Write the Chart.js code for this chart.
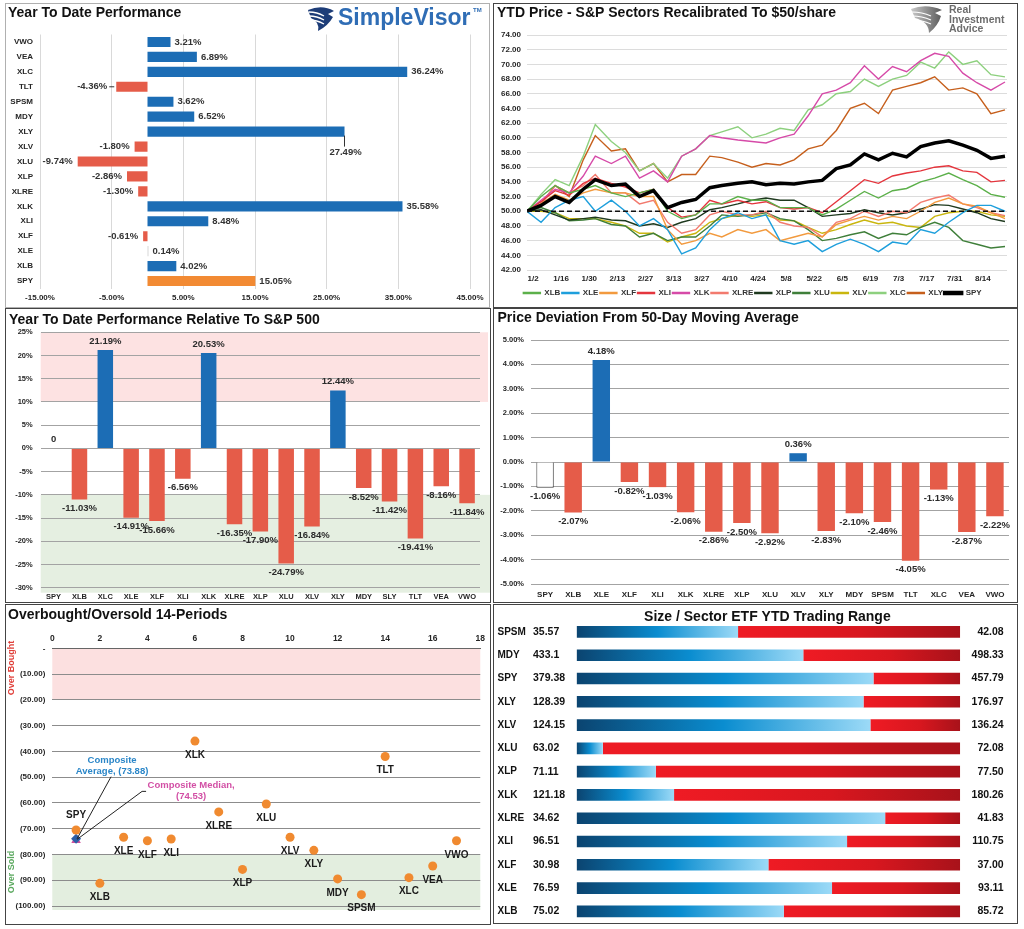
<!DOCTYPE html>
<html>
<head>
<meta charset="utf-8">
<script src="https://cdn.jsdelivr.net/npm/chart.js@4.4.0/dist/chart.umd.min.js"></script>
<style>
body{margin:0;background:#fff;width:1024px;height:929px;position:relative;overflow:hidden}
.panel{position:absolute;box-sizing:border-box;border:1px solid #444;background:#fff}
.panel canvas{position:absolute;left:0;top:0}
</style>
</head>
<body>
<div class="panel" style="left:5px;top:3px;width:485px;height:305px;border-color:#b0b0b0"><canvas id="c1" width="483" height="303"></canvas></div>
<div class="panel" style="left:493px;top:3px;width:525px;height:305px"><canvas id="c2" width="523" height="303"></canvas></div>
<div class="panel" style="left:5px;top:308px;width:486px;height:295px"><canvas id="c3" width="484" height="293"></canvas></div>
<div class="panel" style="left:493px;top:308px;width:525px;height:295px"><canvas id="c4" width="523" height="293"></canvas></div>
<div class="panel" style="left:5px;top:604px;width:486px;height:321px"><canvas id="c5" width="484" height="319"></canvas></div>
<div class="panel" style="left:493px;top:604px;width:525px;height:320px"><canvas id="c6" width="523" height="318"></canvas></div>
<script>
/////////////////////////////////////////////////////////////
// data
/////////////////////////////////////////////////////////////
// year to date performance
const ytdLabels = ['VWO','VEA','XLC','TLT','SPSM','MDY','XLY','XLV','XLU','XLP','XLRE','XLK','XLI','XLF','XLE','XLB','SPY']
const ytdValues = [3.21, 6.89, 36.24, -4.36, 3.62, 6.52, 27.49, -1.80, -9.74, -2.86, -1.30, 35.58, 8.48, -0.61, 0.14, 4.02, 15.05]
const ytdAxis = [-15, 45, 10]   // min, max, step (%)

// sectors recalibrated to $50
const priceDates = ['12/30','1/6','1/13','1/20','1/27','2/2','2/10','2/17','2/24','3/3','3/10','3/17','3/24','3/31','4/6','4/14','4/21','4/28','5/5','5/12','5/19','5/26','6/2','6/9','6/16','6/23','6/30','7/7','7/14','7/21','7/28','8/4','8/11','8/18','8/25']
const xlb  = [50, 52.0, 53.5, 52.5, 53.0, 53.5, 52.5, 52.0, 52.5, 53.0, 50.0, 49.0, 49.5, 51.0, 51.0, 52.0, 51.5, 51.5, 50.5, 50.5, 50.5, 49.5, 50.3, 51.5, 52.7, 51.8, 52.8, 53.1, 54.0, 54.5, 55.2, 54.3, 53.5, 52.3, 51.9]
const xle  = [50, 48.5, 50.5, 51.5, 52.0, 50.0, 51.5, 50.0, 48.0, 49.0, 47.5, 44.2, 45.0, 47.5, 49.0, 49.8, 49.0, 49.5, 46.0, 45.5, 46.0, 44.5, 45.5, 46.2, 45.5, 44.5, 45.8, 45.5, 47.5, 47.0, 48.5, 49.8, 50.8, 50.8, 50.0]
const xlf  = [50, 51.0, 52.3, 51.5, 52.5, 53.0, 52.5, 52.5, 52.0, 52.0, 47.5, 45.5, 46.0, 47.0, 46.5, 47.5, 47.0, 47.5, 46.0, 46.5, 47.0, 46.5, 48.2, 48.8, 49.3, 48.8, 49.3, 49.0, 50.0, 51.2, 51.8, 51.0, 50.7, 49.8, 49.0]
const xli  = [50, 51.3, 52.8, 52.2, 53.8, 54.5, 53.8, 53.3, 52.5, 53.0, 50.5, 49.2, 49.5, 51.5, 51.0, 51.5, 51.0, 51.3, 50.5, 50.3, 50.5, 49.8, 51.3, 52.8, 54.3, 53.8, 54.8, 55.2, 55.5, 56.0, 56.2, 55.5, 55.3, 54.0, 54.2]
const xlk  = [50, 51.5, 53.0, 52.5, 54.8, 57.5, 56.5, 57.5, 54.5, 55.5, 54.0, 57.5, 58.5, 60.3, 60.0, 59.7, 59.5, 59.3, 60.0, 60.5, 63.0, 66.0, 66.5, 67.5, 69.8, 68.0, 69.7, 69.0, 70.5, 71.5, 71.1, 68.8, 67.5, 66.5, 67.6]
const xlre = [50, 51.0, 53.5, 52.5, 53.5, 55.0, 52.5, 52.5, 51.0, 51.5, 48.5, 47.0, 47.5, 49.5, 50.0, 49.5, 49.5, 50.0, 48.5, 48.0, 47.8, 46.5, 48.5, 49.0, 50.0, 49.3, 50.0, 49.8, 51.2, 51.8, 52.2, 51.0, 50.5, 49.8, 49.4]
const xlp  = [50, 50.2, 49.5, 48.8, 49.0, 49.2, 48.8, 48.7, 48.0, 48.3, 47.8, 48.5, 49.0, 50.2, 50.5, 51.0, 51.5, 51.8, 51.5, 51.5, 50.5, 49.3, 49.5, 49.7, 50.2, 49.8, 49.5, 49.8, 50.3, 50.9, 50.8, 50.3, 49.8, 49.0, 48.6]
const xlu  = [50, 50.5, 49.8, 48.7, 48.8, 49.0, 48.2, 48.0, 46.5, 47.0, 46.0, 46.5, 46.5, 48.0, 49.5, 49.3, 49.5, 49.8, 49.0, 48.7, 47.5, 46.0, 46.3, 46.8, 47.2, 46.3, 47.0, 46.8, 47.8, 48.5, 47.8, 46.0, 45.5, 45.0, 45.2]
const xlv  = [50, 50.0, 49.8, 49.0, 49.0, 49.0, 48.5, 48.0, 47.0, 47.0, 45.8, 46.5, 47.0, 48.5, 49.0, 49.5, 49.3, 49.5, 48.8, 48.7, 47.8, 47.0, 47.5, 48.2, 48.8, 48.3, 48.5, 48.0, 47.8, 49.3, 49.8, 50.0, 50.0, 49.5, 49.3]
const xlc  = [50, 52.3, 54.3, 53.5, 57.5, 61.8, 59.5, 58.0, 55.5, 56.5, 54.5, 57.5, 58.5, 60.3, 60.8, 61.5, 60.0, 60.5, 61.3, 61.0, 63.8, 64.5, 66.0, 66.3, 68.0, 67.0, 68.0, 68.5, 70.3, 69.5, 71.7, 70.0, 70.5, 68.6, 68.3]
const xly  = [50, 51.0, 53.5, 52.0, 57.0, 60.3, 58.2, 58.5, 55.5, 56.5, 54.0, 55.0, 55.0, 57.5, 57.3, 56.7, 56.0, 56.5, 56.3, 57.0, 58.5, 59.0, 61.0, 64.0, 64.7, 63.3, 66.5, 67.0, 67.5, 68.3, 66.5, 66.8, 66.0, 63.3, 63.8]
const spy  = [50, 50.8, 52.0, 51.2, 53.0, 54.3, 53.5, 53.7, 52.0, 52.8, 50.5, 51.2, 51.6, 53.2, 53.5, 53.8, 54.0, 53.6, 53.8, 53.7, 54.0, 54.2, 55.8, 56.3, 57.8, 57.0, 57.9, 57.4, 58.8, 59.3, 59.6, 59.0, 58.3, 57.2, 57.5]
const sectorNames = ['XLB','XLE','XLF','XLI','XLK','XLRE','XLP','XLU','XLV','XLC','XLY','SPY']
const sectorSeries = [xlb, xle, xlf, xli, xlk, xlre, xlp, xlu, xlv, xlc, xly, spy]
const priceAxis = [42, 74, 2]
const baseValue = 50

// relative to S&P 500
const relLabels = ['SPY','XLB','XLC','XLE','XLF','XLI','XLK','XLRE','XLP','XLU','XLV','XLY','MDY','SLY','TLT','VEA','VWO']
const relValues = [0, -11.03, 21.19, -14.91, -15.66, -6.56, 20.53, -16.35, -17.90, -24.79, -16.84, 12.44, -8.52, -11.42, -19.41, -8.16, -11.84]
const relAxis = [-30, 25, 5]
const relBands = [10, -10]   // over / under zones

// deviation from 50-day moving average
const devLabels = ['SPY','XLB','XLE','XLF','XLI','XLK','XLRE','XLP','XLU','XLV','XLY','MDY','SPSM','TLT','XLC','VEA','VWO']
const devValues = [-1.06, -2.07, 4.18, -0.82, -1.03, -2.06, -2.86, -2.50, -2.92, 0.36, -2.83, -2.10, -2.46, -4.05, -1.13, -2.87, -2.22]
const devAxis = [-5, 5, 1]

// overbought / oversold
const obNames  = ['SPY','XLB','XLE','XLF','XLI','XLK','XLRE','XLP','XLU','XLV','XLY','MDY','SPSM','TLT','XLC','VEA','VWO']
const obValues = [70.5, 91.2, 73.3, 74.7, 74.0, 36.0, 63.5, 85.8, 60.4, 73.3, 78.4, 89.5, 95.6, 42.0, 89.0, 84.5, 74.7]
const compAvg = 73.88
const compMedian = 74.53
const obZones = [20, 80]

// YTD trading range
const rangeNames = ['SPSM','MDY','SPY','XLY','XLV','XLU','XLP','XLK','XLRE','XLI','XLF','XLE','XLB']
const rangeLow   = [35.57, 433.1, 379.38, 128.39, 124.15, 63.02, 71.11, 121.18, 34.62, 96.51, 30.98, 76.59, 75.02]
const rangeHigh  = [42.08, 498.33, 457.79, 176.97, 136.24, 72.08, 77.50, 180.26, 41.83, 110.75, 37.00, 93.11, 85.72]
const rangeLast  = [38.31, 471.65, 440.07, 164.73, 133.41, 63.64, 72.43, 136.19, 40.42, 106.55, 33.99, 87.59, 80.80]

/////////////////////////////////////////////////////////////
// setup
/////////////////////////////////////////////////////////////
const FONT = '"Liberation Sans", Arial, Helvetica, sans-serif'
Chart.defaults.font.family = FONT
Chart.defaults.color = '#262626'
Chart.defaults.animation = false
Chart.defaults.responsive = false
Chart.defaults.plugins.legend.display = false
Chart.defaults.plugins.tooltip.enabled = false

const BLUE = '#1c6db5'
const RED = '#e55c49'
const ORANGE = '#f28a33'

function txt(c, s, x, y, font, color, align) {
    c.font = font
    c.fillStyle = color
    c.textAlign = align || 'left'
    c.textBaseline = 'middle'
    c.fillText(s, x, y)
}
function titlePlugin(text, x, y, align) {
    return {
        id: 'panelTitle',
        afterDraw(chart) {
            const c = chart.ctx
            c.save()
            txt(c, text, x, y, 'bold 14px ' + FONT, '#111', align)
            c.restore()
        }
    }
}
const fixW = w => s => { s.width = w }
const fixH = h => s => { s.height = h }
const tickFont = size => ({ size: size, weight: 'bold' })

// dates -> days from 1/2
function dayOf(md) {
    const [m, d] = md.split('/').map(Number)
    const y = m === 12 ? 2022 : 2023
    return Math.round((Date.UTC(y, m - 1, d) - Date.UTC(2023, 0, 2)) / 864e5)
}
function mdOf(day) {
    const t = new Date(Date.UTC(2023, 0, 2) + day * 864e5)
    return (t.getUTCMonth() + 1) + '/' + t.getUTCDate()
}

/////////////////////////////////////////////////////////////
// chart 1 - year to date performance
/////////////////////////////////////////////////////////////
new Chart(document.getElementById('c1'), {
    type: 'bar',
    data: {
        labels: ytdLabels,
        datasets: [{
            data: ytdValues,
            backgroundColor: ytdValues.map((v, i) => ytdLabels[i] === 'SPY' ? ORANGE : (v < 0 ? RED : (v < 0.5 ? '#d8d8d8' : BLUE))),
            barPercentage: 0.68,
            categoryPercentage: 1
        }]
    },
    options: {
        indexAxis: 'y',
        layout: { padding: { left: 2, top: 30.5, right: 19, bottom: 0 } },
        scales: {
            x: {
                min: ytdAxis[0], max: ytdAxis[1],
                ticks: { stepSize: ytdAxis[2], padding: 4, font: tickFont(8), maxRotation: 0, callback: v => v.toFixed(2) + '%' },
                grid: { color: '#d9d9d9', drawTicks: false },
                border: { display: false },
                afterFit: fixH(18.5)
            },
            y: {
                ticks: { padding: 7, font: tickFont(8), autoSkip: false },
                grid: { display: false, drawTicks: false },
                border: { display: false },
                afterFit: fixW(32)
            }
        }
    },
    plugins: [titlePlugin('Year To Date Performance', 2, 8.7), {
        id: 'ytdLabels',
        afterDatasetsDraw(chart) {
            const c = chart.ctx
            c.save()
            chart.getDatasetMeta(0).data.forEach((el, i) => {
                const v = ytdValues[i], s = v.toFixed(2) + '%', f = 'bold 9.5px ' + FONT
                if (ytdLabels[i] === 'XLY') {
                    c.strokeStyle = '#333'; c.lineWidth = 1
                    c.beginPath(); c.moveTo(el.x, el.y + 4); c.lineTo(el.x, el.y + 15); c.stroke()
                    txt(c, s, el.x + 1, el.y + 21, f, '#333', 'center')
                } else if (ytdLabels[i] === 'TLT') {
                    c.strokeStyle = '#333'; c.lineWidth = 1
                    c.beginPath(); c.moveTo(el.x - 7, el.y); c.lineTo(el.x - 2, el.y); c.stroke()
                    txt(c, s, el.x - 9, el.y, f, '#333', 'right')
                } else if (v >= 0) {
                    txt(c, s, el.x + 4, el.y, f, '#333', 'left')
                } else {
                    txt(c, s, el.x - 5, el.y, f, '#333', 'right')
                }
            })
            // SimpleVisor mark
            c.fillStyle = '#1d3d78'
            c.beginPath()
            c.moveTo(302, 6); c.quadraticCurveTo(316, 0, 328, 7); c.lineTo(322, 10); c.lineTo(327, 13)
            c.quadraticCurveTo(322, 22, 312, 27); c.quadraticCurveTo(314, 18, 305, 14); c.closePath(); c.fill()
            c.strokeStyle = '#fff'; c.lineWidth = 1.3
            for (let k = 0; k < 3; k++) {
                c.beginPath(); c.moveTo(303, 8 + k * 4); c.quadraticCurveTo(311, 8 + k * 4, 318, 12 + k * 4); c.stroke()
            }
            txt(c, 'SimpleVisor', 332, 15, 'bold 23px ' + FONT, '#2f6db5', 'left')
            txt(c, 'TM', 467, 6, 'bold 6px ' + FONT, '#2f6db5', 'left')
            c.restore()
        }
    }]
})

/////////////////////////////////////////////////////////////
// chart 2 - sectors recalibrated to $50
/////////////////////////////////////////////////////////////
const sectorColors = ['#5cb04a','#1e9fdc','#f29a3e','#e4353d','#d64aa8','#f27a6e','#1f3a1f','#3f7f3a','#c9b60e','#8dd07e','#c65f1c','#000000']
const lastTick = dayOf('8/14')
new Chart(document.getElementById('c2'), {
    type: 'line',
    data: {
        datasets: sectorNames.map((n, k) => ({
            label: n,
            data: sectorSeries[k].map((v, i) => ({ x: dayOf(priceDates[i]), y: v })),
            borderColor: sectorColors[k],
            backgroundColor: sectorColors[k],
            borderWidth: n === 'SPY' ? 3.5 : 1.4,
            pointRadius: 0,
            tension: 0,
            order: n === 'SPY' ? 0 : 1
        }))
    },
    options: {
        layout: { padding: { left: 4, top: 31, right: 10, bottom: 0 } },
        plugins: {
            legend: {
                display: true,
                position: 'bottom',
                labels: {
                    boxWidth: 17, boxHeight: 1, padding: 1.5, font: tickFont(8), color: '#333',
                    sort: (a, b) => a.datasetIndex - b.datasetIndex
                }
            }
        },
        scales: {
            x: {
                type: 'linear',
                min: dayOf('12/30'), max: dayOf('8/26'),
                afterBuildTicks: s => {
                    s.ticks = []
                    for (let d = 0; d <= lastTick; d += 14) s.ticks.push({ value: d })
                },
                ticks: { padding: 4, font: tickFont(8), maxRotation: 0, autoSkip: false, callback: v => mdOf(v) },
                grid: { display: false, drawTicks: false },
                border: { display: false },
                afterFit: fixH(17.5)
            },
            y: {
                min: priceAxis[0], max: priceAxis[1],
                ticks: { stepSize: priceAxis[2], padding: 6, font: tickFont(8), callback: v => v.toFixed(2) },
                grid: { color: '#dcdcdc', drawTicks: false },
                border: { display: false },
                afterFit: fixW(29)
            }
        }
    },
    plugins: [titlePlugin('YTD Price - S&P Sectors Recalibrated To $50/share', 3, 8.7), {
        id: 'baseLine',
        afterDatasetsDraw(chart) {
            const c = chart.ctx, a = chart.chartArea, y = chart.scales.y.getPixelForValue(baseValue)
            c.save()
            c.strokeStyle = '#111'; c.lineWidth = 1.6; c.setLineDash([5, 3])
            c.beginPath(); c.moveTo(a.left, y); c.lineTo(a.right, y); c.stroke()
            c.setLineDash([])
            // Real Investment Advice mark
            const g = c.createLinearGradient(417, 0, 448, 0)
            g.addColorStop(0, '#c8c8c8'); g.addColorStop(1, '#5a5a5a')
            c.fillStyle = g
            c.beginPath()
            c.moveTo(417, 5); c.quadraticCurveTo(432, -1, 448, 6); c.lineTo(441, 9); c.lineTo(447, 12)
            c.quadraticCurveTo(444, 22, 435, 29); c.quadraticCurveTo(435, 18, 421, 14); c.closePath(); c.fill()
            c.strokeStyle = '#fff'; c.lineWidth = 1.2
            for (let k = 0; k < 3; k++) {
                c.beginPath(); c.moveTo(418, 8 + k * 4); c.quadraticCurveTo(428, 8 + k * 4, 437, 12 + k * 4); c.stroke()
            }
            const f = 'bold 10.5px ' + FONT
            txt(c, 'Real', 455, 6, f, '#6d6d6d')
            txt(c, 'Investment', 455, 16, f, '#6d6d6d')
            txt(c, 'Advice', 455, 25.5, f, '#6d6d6d')
            c.restore()
        }
    }]
})

/////////////////////////////////////////////////////////////
// vertical bar helper (charts 3 and 4)
/////////////////////////////////////////////////////////////
function barLabelPlugin(values, fmt) {
    return {
        id: 'barLabels',
        afterDatasetsDraw(chart) {
            const c = chart.ctx
            c.save()
            chart.getDatasetMeta(0).data.forEach((el, i) => {
                const v = values[i]
                txt(c, fmt(v), el.x, v >= 0 ? el.y - 9 : el.y + 9, 'bold 9.5px ' + FONT, '#2b2b2b', 'center')
            })
            c.restore()
        }
    }
}

/////////////////////////////////////////////////////////////
// chart 3 - relative to S&P 500
/////////////////////////////////////////////////////////////
new Chart(document.getElementById('c3'), {
    type: 'bar',
    data: {
        labels: relLabels,
        datasets: [{
            data: relValues,
            backgroundColor: relValues.map(v => v < 0 ? RED : BLUE),
            barPercentage: 0.6,
            categoryPercentage: 1
        }]
    },
    options: {
        layout: { padding: { left: 2, top: 23.3, right: 10, bottom: 0 } },
        scales: {
            x: {
                ticks: { padding: 5, font: tickFont(7.5), maxRotation: 0, minRotation: 0, autoSkip: false },
                grid: { display: false, drawTicks: false },
                border: { display: false },
                afterFit: fixH(14.3)
            },
            y: {
                min: relAxis[0], max: relAxis[1],
                ticks: { stepSize: relAxis[2], padding: 8, font: tickFont(7.5), callback: v => v + '%' },
                grid: { color: '#a3a3a3', drawTicks: false },
                border: { display: false },
                afterFit: fixW(32.7)
            }
        }
    },
    plugins: [titlePlugin('Year To Date Performance Relative To S&P 500', 3, 11), {
        id: 'bands',
        beforeDraw(chart) {
            const c = chart.ctx, a = chart.chartArea, ys = chart.scales.y
            c.save()
            c.fillStyle = '#fde2e2'
            c.fillRect(a.left, a.top, a.right - a.left + 8, ys.getPixelForValue(relBands[0]) - a.top)
            c.fillStyle = '#e5efe1'
            const g = ys.getPixelForValue(relBands[1])
            c.fillRect(a.left, g, a.right - a.left + 10, a.bottom + 5 - g)
            c.restore()
        }
    }, barLabelPlugin(relValues, v => v === 0 ? '0' : v.toFixed(2) + '%')]
})

/////////////////////////////////////////////////////////////
// chart 4 - deviation from 50-day moving average
/////////////////////////////////////////////////////////////
new Chart(document.getElementById('c4'), {
    type: 'bar',
    data: {
        labels: devLabels,
        datasets: [{
            data: devValues,
            backgroundColor: devValues.map((v, i) => devLabels[i] === 'SPY' ? '#ffffff' : (v < 0 ? RED : BLUE)),
            borderColor: devLabels.map(n => n === 'SPY' ? '#3a3a3a' : 'rgba(0,0,0,0)'),
            borderWidth: devLabels.map(n => n === 'SPY' ? 1 : 0),
            barPercentage: 0.62,
            categoryPercentage: 1
        }]
    },
    options: {
        layout: { padding: { left: 4, top: 31, right: 8, bottom: 0 } },
        scales: {
            x: {
                ticks: { padding: 6, font: tickFont(8), maxRotation: 0, minRotation: 0, autoSkip: false },
                grid: { display: false, drawTicks: false },
                border: { display: false },
                afterFit: fixH(18)
            },
            y: {
                min: devAxis[0], max: devAxis[1],
                ticks: { stepSize: devAxis[2], padding: 7, font: tickFont(7.5), callback: v => v.toFixed(2) + '%' },
                grid: { color: '#a3a3a3', drawTicks: false },
                border: { display: false },
                afterFit: fixW(33)
            }
        }
    },
    plugins: [titlePlugin('Price Deviation From 50-Day Moving Average', 3.5, 8.7),
        barLabelPlugin(devValues, v => v.toFixed(2) + '%')]
})

/////////////////////////////////////////////////////////////
// chart 5 - overbought / oversold
/////////////////////////////////////////////////////////////
new Chart(document.getElementById('c5'), {
    type: 'scatter',
    data: {
        datasets: [{
            data: obValues.map((v, i) => ({ x: i + 1, y: v })),
            backgroundColor: '#f08a30',
            borderWidth: 0,
            pointRadius: 4.5
        }, {
            data: [{ x: 1, y: compAvg }],
            backgroundColor: '#2c5fa8',
            borderWidth: 0,
            pointStyle: 'rectRot',
            pointRadius: 5
        }, {
            data: [{ x: 1, y: compMedian }],
            backgroundColor: '#d04f9c',
            borderWidth: 0,
            pointStyle: 'triangle',
            pointRadius: 5.5
        }]
    },
    options: {
        layout: { padding: { left: 2, top: 23.3, right: 6.7, bottom: 18 } },
        scales: {
            x: {
                position: 'top',
                min: 0, max: 18,
                ticks: { stepSize: 2, padding: 5, font: tickFont(8.5), maxRotation: 0 },
                grid: { display: false, drawTicks: false },
                border: { display: true, color: '#666' },
                afterFit: fixH(20)
            },
            y: {
                reverse: true,
                min: 0, max: 100,
                ticks: { stepSize: 10, padding: 7, font: tickFont(8), callback: v => v === 0 ? '-' : '(' + v.toFixed(2) + ')' },
                grid: { color: '#8c8c8c', drawTicks: false },
                border: { display: false },
                afterFit: fixW(44.3)
            }
        }
    },
    plugins: [titlePlugin('Overbought/Oversold 14-Periods', 2, 10), {
        id: 'zones',
        beforeDraw(chart) {
            const c = chart.ctx, a = chart.chartArea, ys = chart.scales.y
            c.save()
            c.fillStyle = '#fce0e0'
            c.fillRect(a.left, a.top, a.right - a.left, ys.getPixelForValue(obZones[0]) - a.top)
            c.fillStyle = '#e3eedf'
            const g = ys.getPixelForValue(obZones[1])
            c.fillRect(a.left, g, a.right - a.left, a.bottom + 4 - g)
            c.restore()
        },
        afterDatasetsDraw(chart) {
            const c = chart.ctx, xs = chart.scales.x, ys = chart.scales.y
            c.save()
            chart.getDatasetMeta(0).data.forEach((el, i) => {
                const dy = obNames[i] === 'SPY' ? -15 : 14
                txt(c, obNames[i], el.x, el.y + dy, 'bold 10px ' + FONT, '#1a1a1a', 'center')
            })
            const px = xs.getPixelForValue(1), pa = ys.getPixelForValue(compAvg), pm = ys.getPixelForValue(compMedian)
            c.strokeStyle = '#222'; c.lineWidth = 1
            c.beginPath(); c.moveTo(px + 35, pa - 62); c.lineTo(px + 1, pa); c.stroke()
            c.beginPath(); c.moveTo(px + 70, pm - 49); c.lineTo(px + 66, pm - 49); c.lineTo(px + 1, pm - 1); c.stroke()
            const f = 'bold 9.5px ' + FONT
            txt(c, 'Composite', px + 36, pa - 78, f, '#2a86c8', 'center')
            txt(c, 'Average, (' + compAvg.toFixed(2) + ')', px + 36, pa - 67, f, '#2a86c8', 'center')
            txt(c, 'Composite Median,', px + 115, pm - 55, f, '#d24fa5', 'center')
            txt(c, '(' + compMedian.toFixed(2) + ')', px + 115, pm - 43.5, f, '#d24fa5', 'center')
            // zone captions
            const r = 'bold 9px ' + FONT
            c.translate(6, 63); c.rotate(-Math.PI / 2)
            txt(c, 'Over Bought', 0, 0, r, '#e0403a', 'center')
            c.rotate(Math.PI / 2); c.translate(0, 204); c.rotate(-Math.PI / 2)
            txt(c, 'Over Sold', 0, 0, r, '#5aa85e', 'center')
            c.restore()
        }
    }]
})

/////////////////////////////////////////////////////////////
// chart 6 - YTD trading range
/////////////////////////////////////////////////////////////
const rangePos = rangeLast.map((v, i) => (v - rangeLow[i]) / (rangeHigh[i] - rangeLow[i]))
function blueGrad(ctx) {
    const ch = ctx.chart
    if (!ch.chartArea || ctx.dataIndex === undefined) return '#0a7cc0'
    const xs = ch.scales.x
    const x0 = xs.getPixelForValue(0), x1 = xs.getPixelForValue(rangePos[ctx.dataIndex])
    const g = ch.ctx.createLinearGradient(x0, 0, Math.max(x1, x0 + 1), 0)
    g.addColorStop(0, '#0b4470'); g.addColorStop(0.5, '#0a8dd0'); g.addColorStop(1, '#9cdaf7')
    return g
}
function redGrad(ctx) {
    const ch = ctx.chart
    if (!ch.chartArea || ctx.dataIndex === undefined) return '#e01a22'
    const xs = ch.scales.x
    const x0 = xs.getPixelForValue(rangePos[ctx.dataIndex]), x1 = xs.getPixelForValue(1)
    const g = ch.ctx.createLinearGradient(x0, 0, Math.max(x1, x0 + 1), 0)
    g.addColorStop(0, '#ef1b24'); g.addColorStop(0.55, '#d8171f'); g.addColorStop(1, '#a8121a')
    return g
}
new Chart(document.getElementById('c6'), {
    type: 'bar',
    data: {
        labels: rangeNames,
        datasets: [{
            data: rangePos,
            backgroundColor: blueGrad,
            barPercentage: 0.5,
            categoryPercentage: 1
        }, {
            data: rangePos.map(p => 1 - p),
            backgroundColor: redGrad,
            barPercentage: 0.5,
            categoryPercentage: 1
        }]
    },
    options: {
        indexAxis: 'y',
        layout: { padding: { left: 82.6, top: 15.3, right: 56.8, bottom: 0 } },
        scales: {
            x: { stacked: true, min: 0, max: 1, display: false },
            y: { stacked: true, display: false }
        }
    },
    plugins: [titlePlugin('Size / Sector ETF YTD Trading Range', 273.4, 12.3, 'center'), {
        id: 'rangeText',
        afterDatasetsDraw(chart) {
            const c = chart.ctx, ys = chart.scales.y
            c.save()
            rangeNames.forEach((n, i) => {
                const y = ys.getPixelForValue(i)
                txt(c, n, 3.5, y, 'bold 10px ' + FONT, '#111', 'left')
                txt(c, String(rangeLow[i]), 39, y, 'bold 10.5px ' + FONT, '#111', 'left')
                txt(c, rangeHigh[i].toFixed(2), 509.7, y, 'bold 10.5px ' + FONT, '#111', 'right')
            })
            c.restore()
        }
    }]
})
</script>
</body>
</html>
